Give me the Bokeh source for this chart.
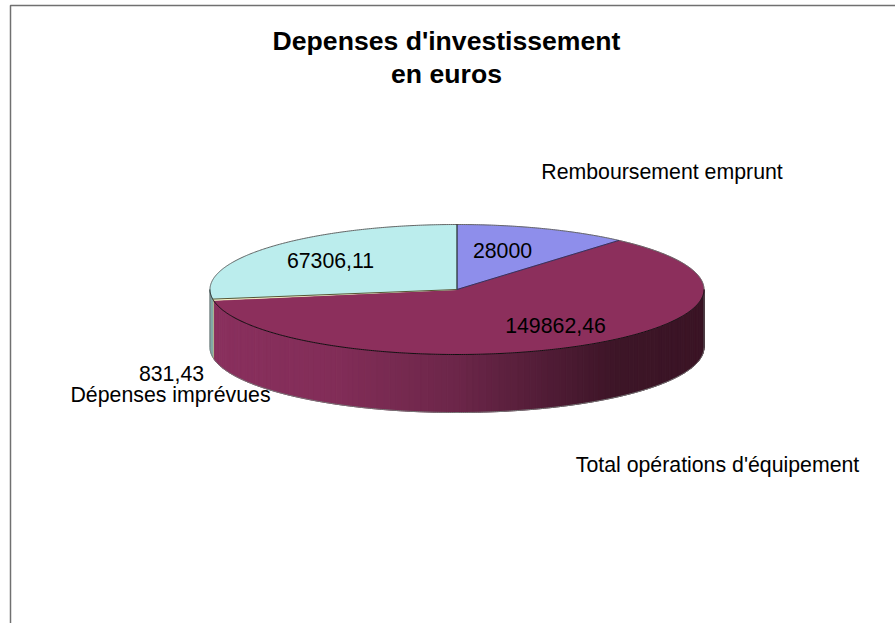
import math
from bokeh.plotting import figure
from bokeh.models import Range1d
from bokeh.core.properties import value
from bokeh.embed import file_html
from bokeh.resources import INLINE

categories = ["Remboursement emprunt", "Total opérations d'équipement", "Dépenses imprévues", "Divers"]
values = [28000, 149862.46, 831.43, 67306.11]
value_labels = ["28000", "149862,46", "831,43", "67306,11"]
top_colors = ["#8E8EEB", "#8C2F5C", "#FFFFCC", "#BBEDED"]
side_colors = ["#8E8EEB", "#8C2F5C", "#B8B88A", "#7FA8A8"]
title_text = "Depenses d'investissement\nen euros"

W, H = 895, 623
CX, CY, RX, RY, DEPTH = 456.5, 289, 247, 65, 58
FONT = value("Liberation Sans")

p = figure(width=W, height=H, x_range=Range1d(0, W), y_range=Range1d(H, 0),
           output_backend="svg", toolbar_location=None, min_border=0,
           x_axis_location=None, y_axis_location=None)
p.grid.visible = False
p.outline_line_color = None
p.background_fill_color = "white"
p.styles = {"position": "absolute", "left": "0", "top": "0"}


def pt(a, dy=0.0):
    r = math.radians(a)
    return CX + RX * math.sin(r), CY - RY * math.cos(r) + dy


def arc(a0, a1, dy=0.0):
    n = max(2, int(abs(a1 - a0) * 2))
    return [pt(a0 + (a1 - a0) * i / n, dy) for i in range(n + 1)]


def shade(frac):
    stops = [(0.0, (0x8A, 0x30, 0x5E)), (0.25, (0x82, 0x2D, 0x58)), (0.5, (0x6C, 0x26, 0x49)),
             (0.7, (0x4E, 0x1B, 0x34)), (0.82, (0x3D, 0x15, 0x27)), (1.0, (0x3A, 0x14, 0x25))]
    for (f0, c0), (f1, c1) in zip(stops, stops[1:]):
        if frac <= f1:
            t = (frac - f0) / (f1 - f0)
            return "#%02x%02x%02x" % tuple(round(a + (b - a) * t) for a, b in zip(c0, c1))
    return "#3a1425"


total = sum(values)
angles = [0.0]
for v in values:
    angles.append(angles[-1] + v / total * 360)

# side wall: maroon strips, then the two small visible walls
xs, ys, cs = [], [], []
a = angles[2]
step = 1.5
while a > 90:
    b = max(90, a - step)
    pts = arc(a, b) + arc(b, a, DEPTH)
    xs.append([q[0] for q in pts])
    ys.append([q[1] for q in pts])
    cs.append(shade((pt((a + b) / 2)[0] - (CX - RX)) / (2 * RX)))
    a = b
p.patches(xs, ys, fill_color=cs, line_color=cs, line_width=1)

for i, (a0, a1) in [(2, (angles[2], angles[3])), (3, (angles[3], 270))]:
    pts = arc(a0, a1) + arc(a1, a0, DEPTH)
    p.patch([q[0] for q in pts], [q[1] for q in pts], fill_color=side_colors[i], line_color=side_colors[i], line_width=1)

# outer silhouette of the wall
low = arc(90, 270, DEPTH)
p.line([q[0] for q in low], [q[1] for q in low], line_color="#777777", line_width=1)
p.line([CX + RX, CX + RX], [CY, CY + DEPTH], line_color="#555555", line_width=1)
p.line([CX - RX, CX - RX], [CY, CY + DEPTH], line_color="#777777", line_width=1)

# top face
for i in range(4):
    pts = [(CX, CY)] + arc(angles[i], angles[i + 1])
    p.patch([q[0] for q in pts], [q[1] for q in pts], fill_color=top_colors[i],
            line_color=top_colors[i], line_width=0.5)

# rim and radial edges
for seg, col in [(arc(270, 360), "#666666"), (arc(0, 90), "#666666"), (arc(90, 270), "#111111")]:
    p.line([q[0] for q in seg], [q[1] for q in seg], line_color=col, line_width=1)
for ang, col in [(0, "#000000"), (angles[1], "#33335f"), (angles[3], "#555533")]:
    e = pt(ang)
    p.line([CX, e[0]], [CY, e[1]], line_color=col, line_width=1)

# frame
p.line([10, 10, W], [H, 5, 5], line_color="#707070", line_width=1.5)

# texts
p.text([446], [57], text=[title_text], text_font=FONT, text_font_size="26.6px", text_font_style="bold",
       text_align="center", text_baseline="middle", text_color="#000000", text_line_height=1.08)
lab_x = [502, 555, 171, 330]
lab_y = [250, 325, 373, 260]
p.text(lab_x, lab_y, text=value_labels, text_font=FONT, text_font_size="21.3px",
       text_align="center", text_baseline="middle", text_color="#000000")
cat_x = [661.5, 717, 170]
cat_y = [171, 464, 394]
p.text(cat_x, cat_y, text=categories[:3], text_font=FONT, text_font_size="21.3px",
       text_align="center", text_baseline="middle", text_color="#000000")

open("out.html", "w").write(file_html(p, INLINE))
